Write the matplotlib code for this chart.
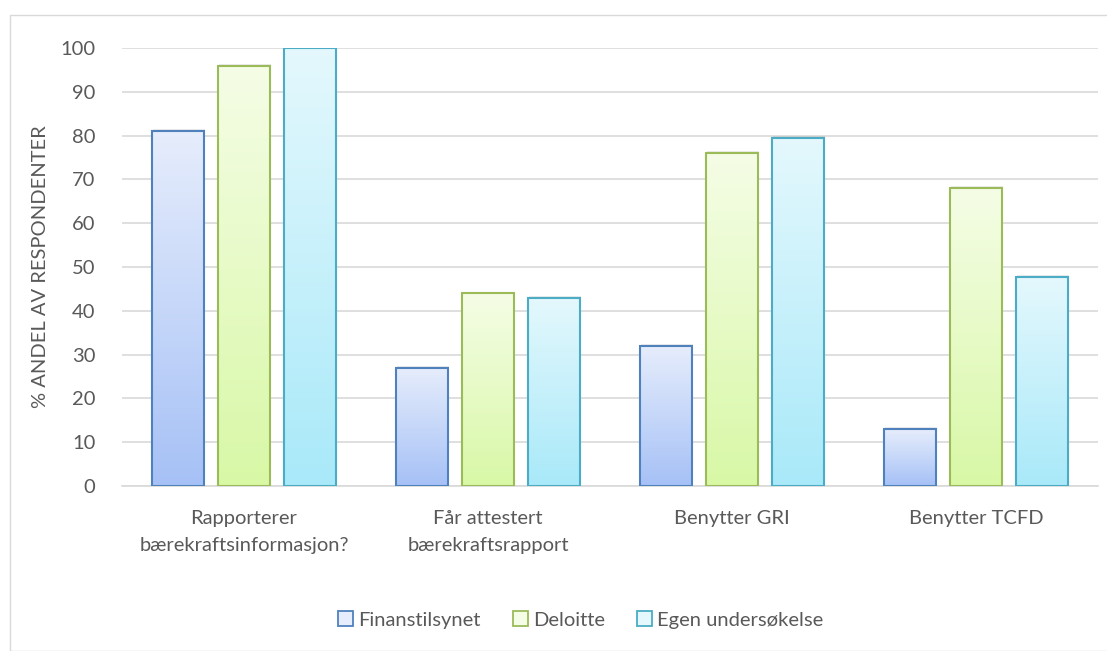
import numpy as np
import matplotlib.pyplot as plt
from matplotlib.colors import LinearSegmentedColormap
from matplotlib.patches import Rectangle, Patch

categories = ["Rapporterer\nbærekraftsinformasjon?", "Får attestert\nbærekraftsrapport",
              "Benytter GRI", "Benytter TCFD"]
series = ["Finanstilsynet", "Deloitte", "Egen undersøkelse"]
finanstilsynet = [81, 27, 32, 13]
deloitte = [96, 44, 76, 68]
egen = [100, 43, 79.5, 47.7]
yticks = [0, 10, 20, 30, 40, 50, 60, 70, 80, 90, 100]

edge_colors = ["#4f81bd", "#9bbb59", "#4bacc6"]
top_colors = ["#e6edfc", "#f5fde6", "#e4f8fd"]
bottom_colors = ["#a6c1f6", "#d8f8a6", "#a9e9f9"]

plt.rcParams['font.family'] = ['Lato', 'DejaVu Sans']
txt = "#595959"

fig = plt.figure(figsize=(11.07, 6.51), dpi=100)
fig.patches.append(Rectangle((10 / 1107, 0), 1.2, 1 - 15 / 651, transform=fig.transFigure,
                             fill=False, edgecolor="#d9d9d9", linewidth=1))
ax = fig.add_axes([122 / 1107, 1 - 486 / 651, 976 / 1107, 438 / 651])

x = np.arange(len(categories))
width = 0.215
offsets = [-0.27, 0, 0.27]
grad = np.linspace(0, 1, 256).reshape(-1, 1)

for i, vals in enumerate([finanstilsynet, deloitte, egen]):
    cmap = LinearSegmentedColormap.from_list("g%d" % i, [bottom_colors[i], top_colors[i]])
    bars = ax.bar(x + offsets[i], vals, width, facecolor="none", edgecolor=edge_colors[i],
                  linewidth=1.5, zorder=4)
    for b in bars:
        x0, y0 = b.get_x(), b.get_y()
        w, h = b.get_width(), b.get_height()
        # soft shadow
        ax.add_patch(Rectangle((x0 + 0.004, y0), w, h + 0.4, facecolor="#000000",
                               alpha=0.08, edgecolor="none", zorder=2))
        im = ax.imshow(grad, cmap=cmap, origin="lower", aspect="auto",
                       extent=[x0, x0 + w, y0, y0 + h], zorder=3)
        im.set_clip_path(b)

ax.set_xlim(-0.5, len(categories) - 0.5)
ax.set_ylim(0, 100)
ax.set_yticks(yticks)
ax.set_xticks(x)
ax.set_xticklabels(categories, fontsize=14.5, color=txt, linespacing=1.75)
ax.tick_params(axis="y", labelsize=14.5, labelcolor=txt, length=0, pad=19)
ax.tick_params(axis="x", length=0, pad=17)
ax.grid(axis="y", color="#d9d9d9", linewidth=1.2, zorder=0)
ax.set_axisbelow(True)
for s in ["top", "right", "left"]:
    ax.spines[s].set_visible(False)
ax.spines["bottom"].set_color("#d9d9d9")
ax.spines["bottom"].set_linewidth(1.2)
ax.set_ylabel("% ANDEL AV RESPONDENTER", fontsize=14.5, color=txt, labelpad=8)

handles = [Patch(facecolor=(top_colors[i]), edgecolor=edge_colors[i], linewidth=1.3)
           for i in range(3)]
fig.legend(handles, series, loc="center", bbox_to_anchor=(581 / 1107, 1 - 620 / 651),
           ncol=3, frameon=False, fontsize=14.5, labelcolor=txt, handlelength=0.75,
           handleheight=0.75, handletextpad=0.25, columnspacing=1.6)

fig.savefig("out.png", dpi=100, facecolor="white")
